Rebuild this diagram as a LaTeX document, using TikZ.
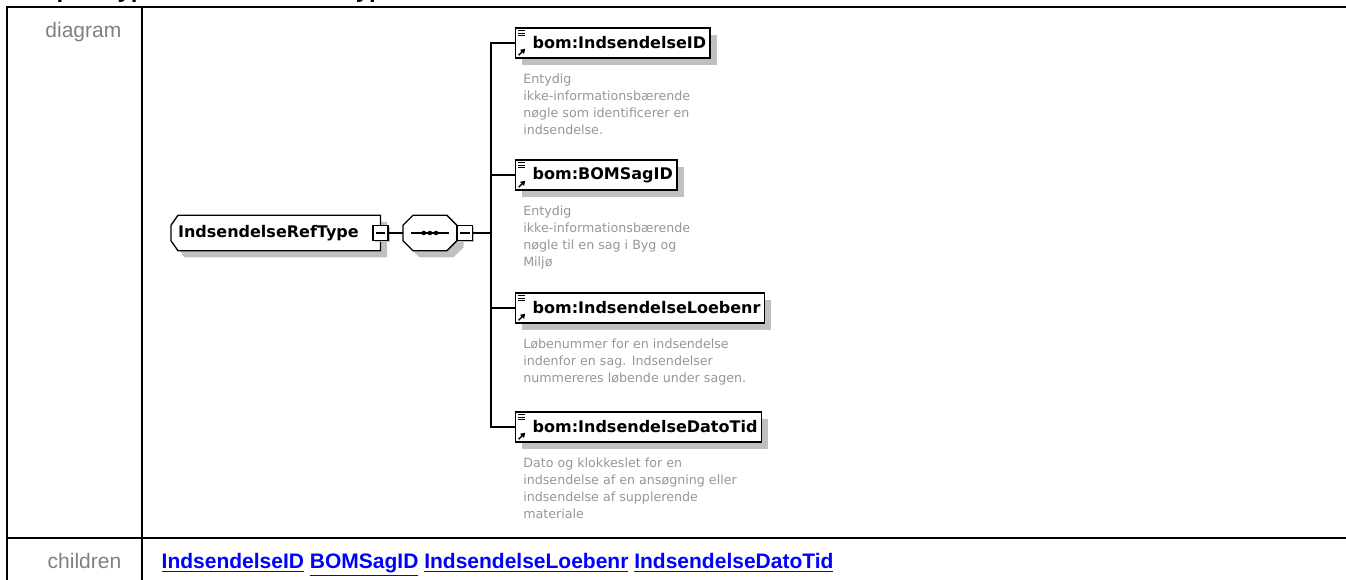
\documentclass[tikz,border=0pt]{standalone}
\usepackage{fontspec}
\setmainfont{Liberation Sans}
\newfontfamily\dejavu{DejaVu Sans}
\usetikzlibrary{positioning,shadows,arrows.meta,backgrounds}
\definecolor{labelgray}{RGB}{128,128,128}
\definecolor{descgray}{RGB}{150,150,150}
\definecolor{shadowgray}{RGB}{192,192,192}
\definecolor{linkblue}{RGB}{0,0,255}

\begin{document}
\begin{tikzpicture}[
        % one unit is one pixel of the screenshot, y runs downwards
        x=0.75pt, y=-0.75pt,
        tableline/.style={line width=1.5pt},
        rowlabel/.style={anchor=base east, text=labelgray, font=\fontsize{15.75}{18}\selectfont},
        boxshadow/.style={drop shadow={shadow xshift=#1, shadow yshift=-#1, opacity=1, fill=shadowgray}},
        outline/.style={draw, line width=1pt, fill=white, boxshadow=5pt},
        elembox/.style={rectangle, minimum width=156.75pt, minimum height=26.25pt, inner sep=0pt,
            font=\dejavu\bfseries\fontsize{12}{14}\selectfont},
        seqbox/.style={rectangle, minimum width=40pt, minimum height=26.25pt, inner sep=0pt},
        togglebox/.style={rectangle, draw, line width=1pt, fill=white, boxshadow=1.2pt,
            minimum size=11.25pt, inner sep=0pt,
            path picture={
                \draw[line width=0.8pt] ([xshift=2pt]path picture bounding box.west) -- ([xshift=-2pt]path picture bounding box.east);
            }},
        childbox/.style={rectangle, draw, line width=1pt, fill=white, boxshadow=5pt,
            minimum height=22.5pt, inner xsep=3pt, inner ysep=0pt, anchor=west,
            font=\dejavu\bfseries\fontsize{12}{14}\selectfont,
            path picture={
                \foreach \dy in {2,3.8,5.6}
                    \draw[line width=0.6pt] ([xshift=2pt,yshift=-\dy pt]path picture bounding box.north west) -- ++(5pt,0);
                \draw[line width=1.1pt, -{Triangle[length=3.4pt,width=4pt]}]
                    ([xshift=2.2pt,yshift=2pt]path picture bounding box.south west) -- ++(5pt,5pt);
            }},
        desc/.style={align=left, inner sep=0pt, text=descgray,
            font=\dejavu\fontsize{9.5}{12.75}\selectfont},
        link/.style={anchor=base west, text=linkblue, font=\bfseries\fontsize{15.75}{18}\selectfont}
    ]
    \useasboundingbox (0,0) rectangle (1346,580);
    \clip (0,0) rectangle (1346,580);

    % heading, mostly above the visible area
    \node[anchor=base west, inner sep=0pt, font=\bfseries\fontsize{18}{20}\selectfont] (heading) at (7,-2) {complexType IndsendelseRefType};

    % table
    \draw[tableline] (1350,7) -- (7,7) -- (7,585);
    \draw[tableline] (142,7) -- (142,585);
    \draw[tableline] (7,538) -- (1350,538);
    \node[rowlabel] (lbldiagram) at (126,38) {diagram};
    \node[rowlabel] (lblchildren) at (126,569) {children};
    \node[link] (links) at (157,569) {\underline{IndsendelseID} \underline{BOMSagID} \underline{IndsendelseLoebenr} \underline{IndsendelseDatoTid}};

    % type and sequence
    \node[elembox, anchor=west] (elem) at (171,233) {IndsendelseRefType\hspace*{11pt}};
    \node[seqbox, anchor=west] (seq) at (403,233) {};
    \begin{scope}[on background layer]
        \path[outline] ([shift={(7,0)}]elem.north west) -- (elem.north east) -- (elem.south east)
            -- ([shift={(7,0)}]elem.south west) -- ([shift={(0,-10)}]elem.south west)
            -- ([shift={(0,10)}]elem.north west) -- cycle;
        \path[outline] ([shift={(10,0)}]seq.north west) -- ([shift={(-10,0)}]seq.north east)
            -- ([shift={(0,10)}]seq.north east) -- ([shift={(0,-10)}]seq.south east)
            -- ([shift={(-10,0)}]seq.south east) -- ([shift={(10,0)}]seq.south west)
            -- ([shift={(0,-10)}]seq.south west) -- ([shift={(0,10)}]seq.north west) -- cycle;
    \end{scope}
    \draw[line width=1pt] ([xshift=6pt]seq.west) -- ([xshift=-6pt]seq.east);
    \foreach \dx in {-4.6,0,4.6}
        \fill ([xshift=\dx pt]seq.center) circle (1.7pt);
    \node[togglebox] (elemtog) at (elem.east) {};
    \node[togglebox, right=0pt of seq] (seqtog) {};
    \coordinate (fork) at (491,233);

    % children
    \node[childbox] (c1) at (515,43) {\hspace*{9.75pt}bom:IndsendelseID};
    \node[childbox] (c2) at (515,175) {\hspace*{9.75pt}bom:BOMSagID};
    \node[childbox] (c3) at (515,308) {\hspace*{9.75pt}bom:IndsendelseLoebenr};
    \node[childbox] (c4) at (515,427) {\hspace*{9.75pt}bom:IndsendelseDatoTid};

    \node[desc, below right=11pt and 6pt of c1.south west] (d1) {Entydig\\ikke-informationsbærende\\nøgle som identificerer en\\indsendelse.};
    \node[desc, below right=11pt and 6pt of c2.south west] (d2) {Entydig\\ikke-informationsbærende\\nøgle til en sag i Byg og\\Miljø};
    \node[desc, below right=11pt and 6pt of c3.south west] (d3) {Løbenummer for en indsendelse\\indenfor en sag. Indsendelser\\nummereres løbende under sagen.};
    \node[desc, below right=11pt and 6pt of c4.south west] (d4) {Dato og klokkeslet for en\\indsendelse af en ansøgning eller\\indsendelse af supplerende\\materiale};

    % connections
    \draw[line width=1pt] (elemtog) -- (seq.west);
    \draw[line width=1pt] (seqtog) -- (fork);
    \foreach \c in {c1,c2,c3,c4}
        \draw[line width=1pt] (\c.west) -| (fork);
\end{tikzpicture}
\end{document}
